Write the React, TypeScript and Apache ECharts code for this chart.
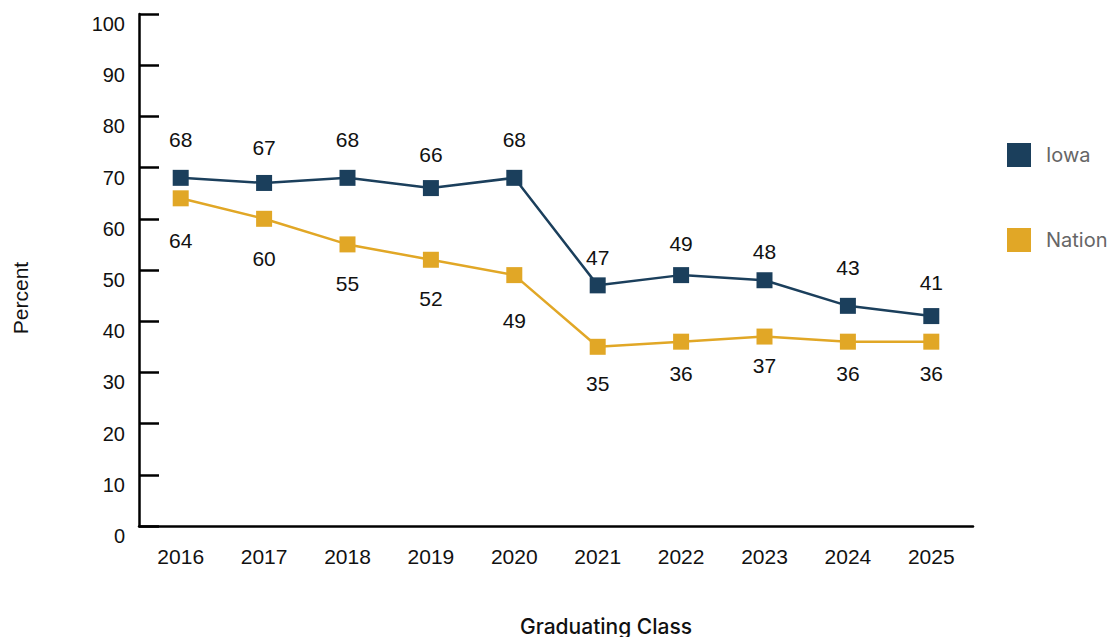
import React, { useEffect, useRef } from "react";
import * as echarts from "echarts";

const categories = ["2016", "2017", "2018", "2019", "2020", "2021", "2022", "2023", "2024", "2025"];
const iowa = [68, 67, 68, 66, 68, 47, 49, 48, 43, 41];
const nation = [64, 60, 55, 52, 49, 35, 36, 37, 36, 36];
const yTicks = [0, 10, 20, 30, 40, 50, 60, 70, 80, 90, 100];

// label distances (px) from the marker, per point
const iowaLabelGap = [20, 17, 20, 15, 20, 9, 13, 10, 20, 15];
const nationLabelGap = [24, 21, 21, 20, 27, 18, 13, 10, 13, 13];

const IOWA_COLOR = "#1b3f5c";
const NATION_COLOR = "#e1a726";
const FONT = "Inter";
const NUM_FONT = "Liberation Sans";

export default function App() {
  const ref = useRef<HTMLDivElement>(null);
  useEffect(() => {
    if (!ref.current) return;
    const chart = echarts.init(ref.current, undefined, { renderer: "svg" });
    chart.setOption({
      animation: false,
      grid: { left: 139, right: 142, top: 14, bottom: 111 },
      legend: {
        orient: "vertical",
        left: 1002,
        top: 138,
        itemWidth: 24,
        itemHeight: 24,
        itemGap: 61,
        icon: "rect",
        textStyle: { color: "#666", fontSize: 20, fontFamily: FONT, padding: [0, 0, 0, 10] },
        data: ["Iowa", "Nation"],
      },
      xAxis: {
        type: "category",
        data: categories,
        boundaryGap: true,
        axisLine: { lineStyle: { color: "#000", width: 2.5 } },
        axisTick: { inside: true, length: 13, lineStyle: { color: "#000", width: 2.5 } },
        axisLabel: { color: "#111", fontSize: 21, fontFamily: NUM_FONT, margin: 20 },
      },
      yAxis: {
        type: "value",
        min: yTicks[0],
        max: yTicks[yTicks.length - 1],
        interval: 10,
        splitLine: { show: false },
        axisLine: { show: true, lineStyle: { color: "#000", width: 2.5 } },
        axisTick: { show: true, inside: true, length: 20, lineStyle: { color: "#000", width: 2.5 } },
        axisLabel: { color: "#111", fontSize: 20, fontFamily: NUM_FONT, margin: 14, verticalAlign: "top" },
      },
      graphic: [
        {
          type: "text",
          x: 606,
          y: 626,
          style: {
            text: "Graduating Class",
            fontSize: 21,
            fontFamily: FONT,
            fontWeight: 500,
            fill: "#111",
            align: "center",
            verticalAlign: "middle",
          },
        },
        {
          type: "text",
          x: 20,
          y: 298,
          rotation: Math.PI / 2,
          style: {
            text: "Percent",
            fontSize: 21,
            fontFamily: NUM_FONT,
            fill: "#111",
            align: "center",
            verticalAlign: "middle",
          },
        },
      ],
      series: [
        {
          name: "Iowa",
          type: "line",
          data: iowa.map((v, i) => ({ value: v, label: { distance: iowaLabelGap[i] } })),
          color: IOWA_COLOR,
          symbol: "rect",
          symbolSize: 16,
          lineStyle: { width: 2.5, color: IOWA_COLOR },
          itemStyle: { color: IOWA_COLOR },
          label: { show: true, position: "top", fontSize: 21, fontFamily: NUM_FONT, color: "#111" },
          z: 3,
        },
        {
          name: "Nation",
          type: "line",
          data: nation.map((v, i) => ({ value: v, label: { distance: nationLabelGap[i] } })),
          color: NATION_COLOR,
          symbol: "rect",
          symbolSize: 16,
          lineStyle: { width: 2.5, color: NATION_COLOR },
          itemStyle: { color: NATION_COLOR },
          label: { show: true, position: "bottom", fontSize: 21, fontFamily: NUM_FONT, color: "#111" },
          z: 2,
        },
      ],
    });
    return () => chart.dispose();
  }, []);
  return <div ref={ref} style={{ width: 1115, height: 637, position: "absolute", left: 0, top: 0 }} />;
}
